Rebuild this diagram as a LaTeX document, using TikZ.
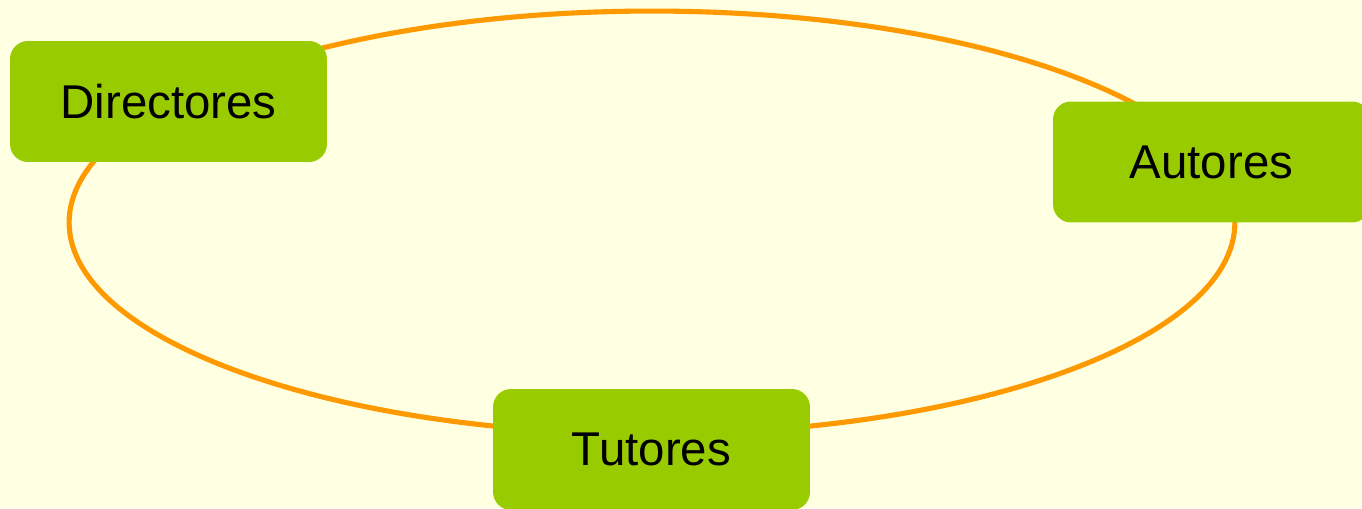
\documentclass[tikz,border=0pt]{standalone}
\usepackage{fontspec}
\setmainfont{Liberation Sans}
\definecolor{bgyellow}{HTML}{FFFFE1}
\definecolor{ringorange}{HTML}{FF9900}
\definecolor{boxgreen}{HTML}{99CC00}

\begin{document}
\begin{tikzpicture}[x=0.02cm, y=-0.02cm]
        \tikzstyle{box} = [rectangle, rounded corners=0.36cm, minimum width=6.34cm, minimum height=2.42cm, text centered, fill=boxgreen, font=\fontsize{27}{32}\selectfont]
        \tikzstyle{ring} = [draw=ringorange, line width=2.9pt]

        \fill [bgyellow] (0,0) rectangle (1362,508);
        \useasboundingbox (0,0) rectangle (1362,508);
        \clip (0,0) rectangle (1362,508);

        \coordinate (centre) at (652,222.5);
        \draw [ring] (centre) ellipse [x radius=11.66cm, y radius=4.23cm];

        \node (directores) [box] at (168.5,101.5) {Directores};
        \node (autores) [box] at (1211.5,162) {Autores};
        \node (tutores) [box] at (651.5,449.5) {Tutores};
    \end{tikzpicture}
\end{document}
